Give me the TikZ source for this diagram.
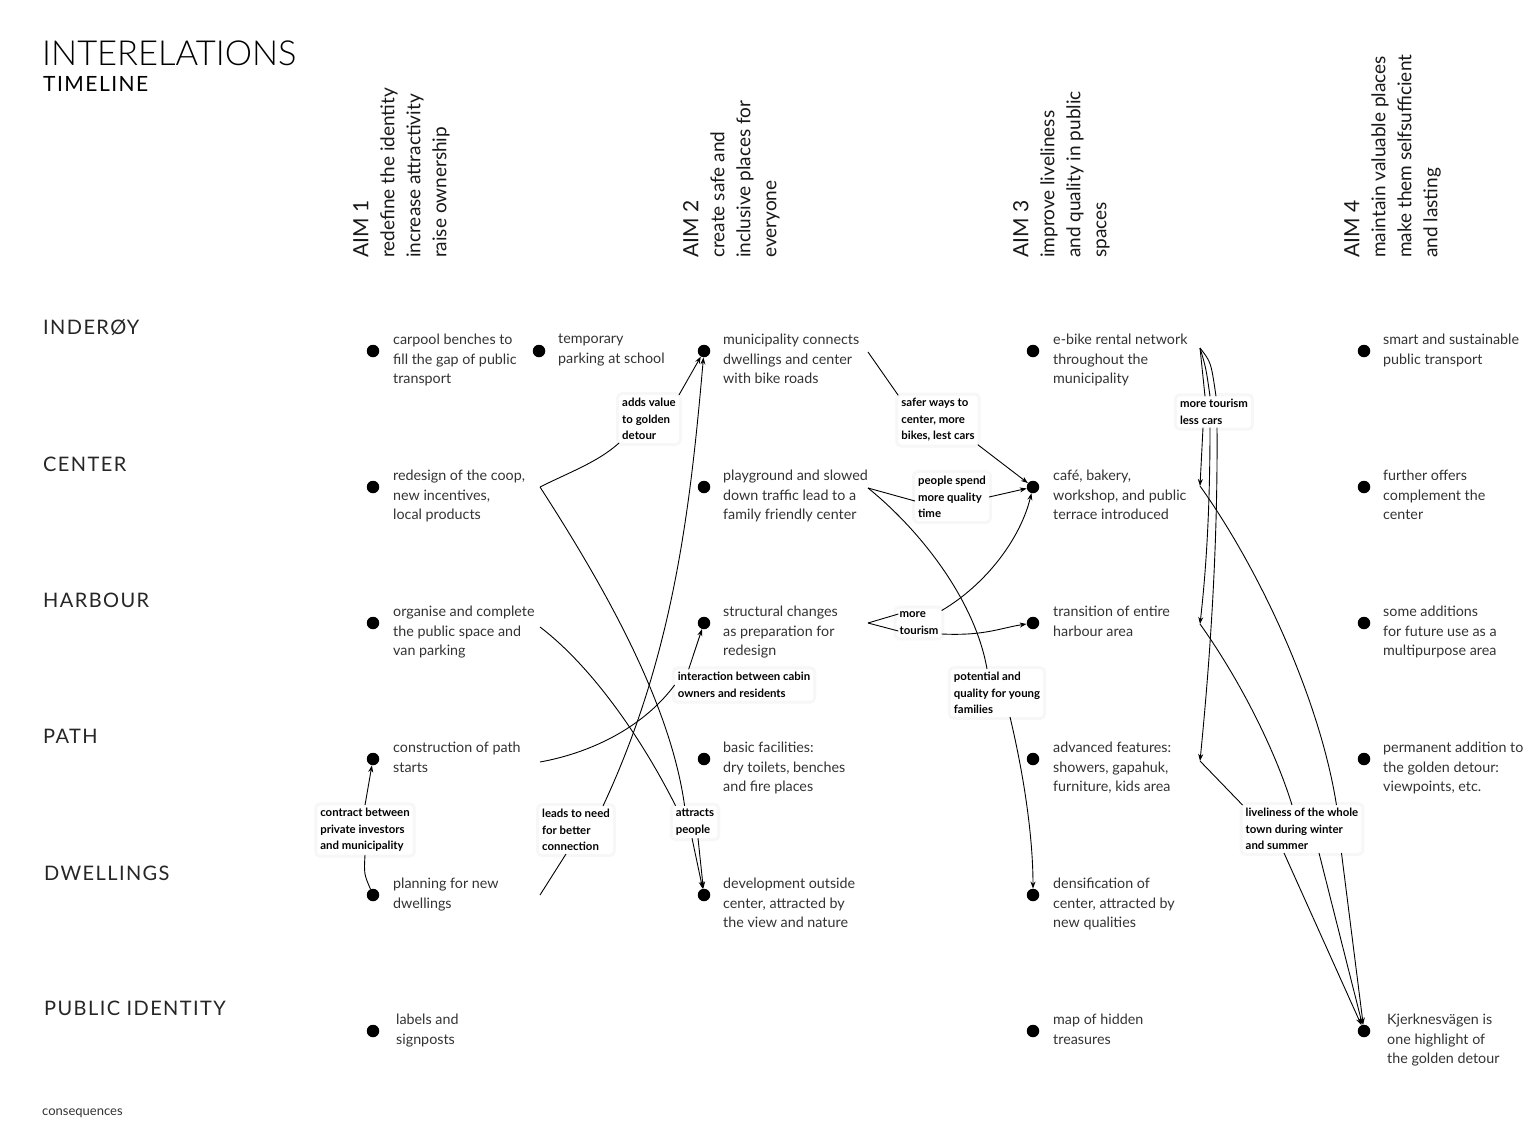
\documentclass[tikz,border=0pt]{standalone}
\usepackage{fontspec}
\setmainfont{Lato}
\newfontfamily\lightfont{Lato Light}
\newfontfamily\rowfont{Lato}[LetterSpace=7]
\usetikzlibrary{arrows.meta,calc}
\begin{document}
\begin{tikzpicture}[x=1pt,y=-1pt,
  dot/.style={circle,fill=black,inner sep=0pt,minimum size=12.5pt},
  item/.style={anchor=north west,align=left,inner sep=0pt,font=\fontsize{14.3}{19.6}\selectfont,text=black!80},
  lab/.style={align=left,font=\bfseries\fontsize{11.4}{16.5}\selectfont,fill=white,inner sep=3pt,rounded corners=3pt,preaction={draw=black!3,line width=6pt}},
  rowlab/.style={anchor=west,inner sep=0pt,font=\rowfont\fontsize{20}{20}\selectfont,text=black!85},
  aim/.style={rotate=90,anchor=north west,align=left,inner sep=0pt,font=\fontsize{19}{26}\selectfont,text=black!90},
  con/.style={line width=0.9pt},
  arr/.style={con,-{Stealth[length=7pt,width=5pt]}},
]
\path[use as bounding box] (0,0) rectangle (1537,1146);
\fill[white] (0,0) rectangle (1537,1146);

% title
\node[anchor=base west,inner sep=0pt,font=\lightfont\fontsize{34.5}{34.5}\selectfont] (title) at (42,65) {INTERELATIONS};
\node[anchor=base west,inner sep=0pt,font=\rowfont\fontsize{21}{21}\selectfont] (sub) at (43,91) {TIMELINE};

% rows
\node[rowlab] (rInd) at (43,328) {INDERØY};
\node[rowlab] (rCen) at (43,464) {CENTER};
\node[rowlab] (rHar) at (43,600) {HARBOUR};
\node[rowlab] (rPat) at (43,736) {PATH};
\node[rowlab] (rDwe) at (44,873) {DWELLINGS};
\node[rowlab] (rPub) at (44,1008) {PUBLIC IDENTITY};
\node[anchor=base west,inner sep=0pt,font=\fontsize{13}{13}\selectfont,text=black!80] (cons) at (42,1115) {consequences};

% aims
\node[aim] (aim1) at (353,258) {{\fontsize{21}{26}\selectfont AIM 1}\\redefine the identity\\increase attractivity\\raise ownership};
\node[aim] (aim2) at (683,258) {{\fontsize{21}{26}\selectfont AIM 2}\\create safe and\\inclusive places for\\everyone};
\node[aim] (aim3) at (1013,258) {{\fontsize{21}{26}\selectfont AIM 3}\\improve liveliness\\and quality in public\\spaces};
\node[aim] (aim4) at (1344,258) {{\fontsize{21}{26}\selectfont AIM 4}\\maintain valuable places\\make them selfsufficient\\and lasting};

% column 1
\node[dot] (d11) at (373,351) {}; \node[item] (t11) at (393,334) {carpool benches to\\fill the gap of public\\transport};
\node[dot] (d1x) at (539,351) {}; \node[item] (t1x) at (558,334) {temporary\\parking at school};
\node[dot] (d12) at (373,487) {}; \node[item] (t12) at (393,470) {redesign of the coop,\\new incentives,\\local products};
\node[dot] (d13) at (373,623) {}; \node[item] (t13) at (393,606) {organise and complete\\the public space and\\van parking};
\node[dot] (d14) at (373,759) {}; \node[item] (t14) at (393,742) {construction of path\\starts};
\node[dot] (d15) at (373,895) {}; \node[item] (t15) at (393,878) {planning for new\\dwellings};
\node[dot] (d16) at (373,1031) {}; \node[item] (t16) at (396,1014) {labels and\\signposts};

% column 2
\node[dot] (d21) at (704,351) {}; \node[item] (t21) at (723,334) {municipality connects\\dwellings and center\\with bike roads};
\node[dot] (d22) at (704,487) {}; \node[item] (t22) at (723,470) {playground and slowed\\down traffic lead to a\\family friendly center};
\node[dot] (d23) at (704,623) {}; \node[item] (t23) at (723,606) {structural changes\\as preparation for\\redesign};
\node[dot] (d24) at (704,759) {}; \node[item] (t24) at (723,742) {basic facilities:\\dry toilets, benches\\and fire places};
\node[dot] (d25) at (704,895) {}; \node[item] (t25) at (723,878) {development outside\\center, attracted by\\the view and nature};

% column 3
\node[dot] (d31) at (1033,351) {}; \node[item] (t31) at (1053,334) {e-bike rental network\\throughout the\\municipality};
\node[dot] (d32) at (1033,487) {}; \node[item] (t32) at (1053,470) {café, bakery,\\workshop, and public\\terrace introduced};
\node[dot] (d33) at (1033,623) {}; \node[item] (t33) at (1053,606) {transition of entire\\harbour area};
\node[dot] (d34) at (1033,759) {}; \node[item] (t34) at (1053,742) {advanced features:\\showers, gapahuk,\\furniture, kids area};
\node[dot] (d35) at (1033,895) {}; \node[item] (t35) at (1053,878) {densification of\\center, attracted by\\new qualities};
\node[dot] (d36) at (1033,1031) {}; \node[item] (t36) at (1053,1014) {map of hidden\\treasures};

% column 4
\node[dot] (d41) at (1364,351) {}; \node[item] (t41) at (1383,334) {smart and sustainable\\public transport};
\node[dot] (d42) at (1364,487) {}; \node[item] (t42) at (1383,470) {further offers\\complement the\\center};
\node[dot] (d43) at (1364,623) {}; \node[item] (t43) at (1383,606) {some additions\\for future use as a\\multipurpose area};
\node[dot] (d44) at (1364,759) {}; \node[item] (t44) at (1383,742) {permanent addition to\\the golden detour:\\viewpoints, etc.};
\node[dot] (d46) at (1364,1031) {}; \node[item] (t46) at (1387,1014) {Kjerknesvägen is\\one highlight of\\the golden detour};

% connector labels
\node[lab] (L1) at (649,419) {adds value\\to golden\\detour};
\node[lab] (L2) at (938,420) {safer ways to\\center, more\\bikes, lest cars};
\node[lab] (L3) at (952,497) {people spend\\more quality\\time};
\node[lab] (L4) at (1214,412) {more tourism\\less cars};
\node[lab] (L5) at (919,623) {more\\tourism};
\node[lab] (L6) at (744,685) {interaction between cabin\\owners and residents};
\node[lab] (L7) at (997,693) {potential and\\quality for young\\families};
\node[lab] (L8) at (365,830) {contract between\\private investors\\and municipality};
\node[lab] (L9) at (576,830) {leads to need\\for better\\connection};
\node[lab] (L10) at (695,822) {attracts\\people};
\node[lab] (L11) at (1302,829) {liveliness of the whole\\town during winter\\and summer};

% vertices at item ends
\coordinate (v12) at (540,487);
\coordinate (v13) at (540,627);
\coordinate (v14) at (540,762);
\coordinate (v15) at (540,895);
\coordinate (v21) at (868,352);
\coordinate (v22) at (868,488);
\coordinate (v23) at (868,623);
\coordinate (v31) at (1200,348);
\coordinate (v32) at (1200,486);
\coordinate (v33) at (1200,624);
\coordinate (v34) at (1200,761);

% connectors column 1 -> 2
\draw[con] (v12) .. controls (570,472) and (598,462) .. (L1.south west);
\draw[arr] (L1.north east) -- (d21);
\draw[con] (v12) .. controls (600,580) and (670,700) .. ($(L10.north west)+(12,0)$);
\draw[con] (v13) .. controls (590,665) and (640,735) .. ($(L10.north west)+(3,0)$);
\draw[con] (v14) .. controls (595,752) and (645,725) .. (L6.west);
\draw[arr] ($(L6.north west)+(14,0)$) -- (d23);
\draw[con] (v15) -- ($(L9.south)+(-10,0)$);
\draw[arr] ($(L9.north)+(27,0)$) .. controls (673,656) and (690,512) .. (d21);
\draw[arr] ($(L10.south)+(-3,0)$) -- (d25);
\draw[arr] ($(L10.south)+(3,0)$) -- (d25);
\draw[arr] (L8.north) -- (d14);
\draw[con] (d15) .. controls (364,874) .. (L8.south);

% connectors column 2 -> 3
\draw[con] (v21) -- (L2.north west);
\draw[arr] (L2.south east) -- (d32);
\draw[con] (v22) -- ($(L3.west)+(0,4)$);
\draw[arr] (L3.east) -- (d32);
\draw[con] (v22) .. controls (920,530) and (975,600) .. ($(L7.north)+(-10,0)$);
\draw[arr] ($(L7.south)+(13,0)$) .. controls (1025,780) and (1033,840) .. (d35);
\draw[con] (v23) -- ($(L5.west)+(2,-9)$);
\draw[con] (v23) -- ($(L5.west)+(2,8)$);
\draw[arr] ($(L5.north east)+(0,2)$) .. controls (985,585) and (1020,540) .. (d32);
\draw[arr] ($(L5.east)+(0,11)$) .. controls (985,636) and (1000,628) .. (d33);

% connectors column 3 -> 4
\draw[con] (v31) -- ($(L4.north)+(-9,0)$);
\draw[con] (v31) .. controls (1206,368) .. ($(L4.north)+(-4,0)$);
\draw[con] (v31) .. controls (1211,362) .. ($(L4.north)+(2,0)$);
\draw[arr] ($(L4.south)+(-11,0)$) -- (v32);
\draw[arr] ($(L4.south)+(-4,0)$) .. controls (1210,520) and (1205,580) .. (v33);
\draw[arr] ($(L4.south)+(3,0)$) .. controls (1218,560) and (1208,680) .. (v34);
\draw[con] (v32) .. controls (1260,570) and (1320,700) .. ($(L11.north east)+(-25,0)$);
\draw[con] (v33) .. controls (1240,680) and (1275,750) .. ($(L11.north)+(-10,0)$);
\draw[con] (v34) -- (L11.north west);
\draw[arr] ($(L11.south)+(-18,0)$) -- (d46);
\draw[arr] ($(L11.south)+(17,0)$) -- (d46);
\draw[arr] ($(L11.south east)+(-20,0)$) -- (d46);
\end{tikzpicture}
\end{document}
